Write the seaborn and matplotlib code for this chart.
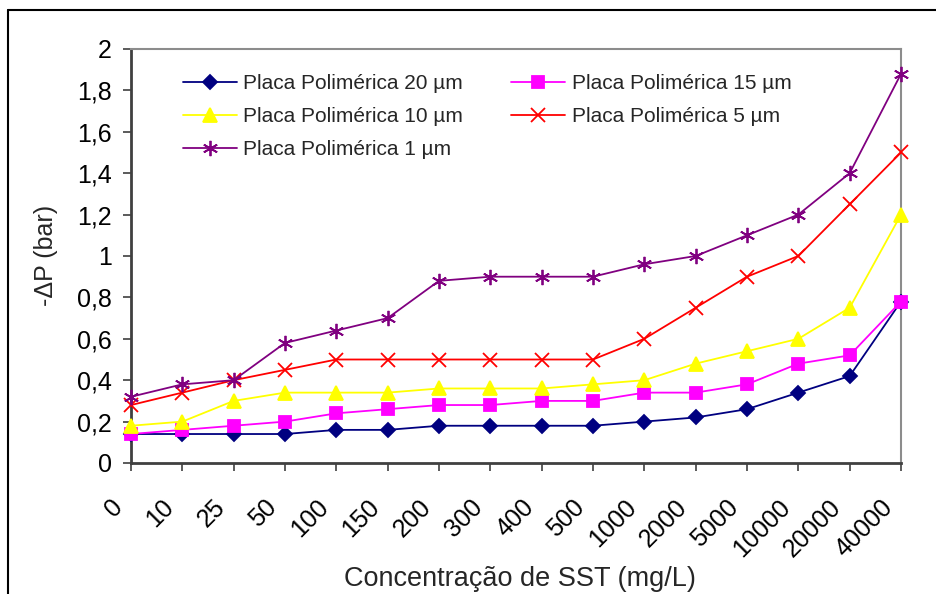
import matplotlib
matplotlib.use("Agg")
import matplotlib.pyplot as plt
import matplotlib.transforms as mtransforms
import seaborn as sns
import pandas as pd
from matplotlib.lines import Line2D

# ---- data ----
categories = ["0", "10", "25", "50", "100", "150", "200", "300", "400", "500",
              "1000", "2000", "5000", "10000", "20000", "40000"]
placa_20 = [0.14, 0.14, 0.14, 0.14, 0.16, 0.16, 0.18, 0.18, 0.18, 0.18, 0.20, 0.22, 0.26, 0.34, 0.42, 0.78]
placa_15 = [0.14, 0.16, 0.18, 0.20, 0.24, 0.26, 0.28, 0.28, 0.30, 0.30, 0.34, 0.34, 0.38, 0.48, 0.52, 0.78]
placa_10 = [0.18, 0.20, 0.30, 0.34, 0.34, 0.34, 0.36, 0.36, 0.36, 0.38, 0.40, 0.48, 0.54, 0.60, 0.75, 1.20]
placa_5 = [0.28, 0.34, 0.40, 0.45, 0.50, 0.50, 0.50, 0.50, 0.50, 0.50, 0.60, 0.75, 0.90, 1.00, 1.25, 1.50]
placa_1 = [0.32, 0.38, 0.40, 0.58, 0.64, 0.70, 0.88, 0.90, 0.90, 0.90, 0.96, 1.00, 1.10, 1.20, 1.40, 1.88]
series_labels = ["Placa Polimérica 20 µm", "Placa Polimérica 15 µm", "Placa Polimérica 10 µm",
                 "Placa Polimérica 5 µm", "Placa Polimérica 1 µm"]
y_ticks = [0, 0.2, 0.4, 0.6, 0.8, 1.0, 1.2, 1.4, 1.6, 1.8, 2.0]
y_tick_labels = ["0", "0,2", "0,4", "0,6", "0,8", "1", "1,2", "1,4", "1,6", "1,8", "2"]
x_title = "Concentração de SST (mg/L)"
y_title = "-ΔP (bar)"

# ---- styles ----
series_values = [placa_20, placa_15, placa_10, placa_5, placa_1]
colors = ["#000080", "#FF00FF", "#FFFF00", "#FF0000", "#800080"]
markers = ["D", "s", "^", "x", (6, 2, 0)]
msizes = [7.0, 8.3, 9.8, 10.0, 11.0]

sns.set_style("white")
plt.rcParams["font.family"] = ["Liberation Sans", "DejaVu Sans"]

W, H = 937, 594
fig = plt.figure(figsize=(W / 100, H / 100), dpi=100)
ax = fig.add_axes([131 / W, 1 - 463 / H, (901 - 131) / W, (463 - 49) / H])

handles = []
for vals, lab, c, m, ms in zip(series_values, series_labels, colors, markers, msizes):
    df = pd.DataFrame({"conc": categories, "dp": vals})
    sns.lineplot(data=df, x="conc", y="dp", ax=ax, color=c, marker=m, markersize=ms,
                 markeredgecolor=c, markerfacecolor=c, markeredgewidth=1.3,
                 linewidth=1.3, sort=False, clip_on=False, legend=False, zorder=3)
    handles.append(Line2D([], [], color=c, marker=m, markersize=ms, markeredgecolor=c,
                          markerfacecolor=c, markeredgewidth=1.3, linewidth=1.3))

ax.set_xlim(0, len(categories) - 1)
ax.set_ylim(0, 2)
ax.set_yticks(y_ticks)
ax.set_yticklabels(y_tick_labels)
ax.tick_params(axis="y", labelsize=18, length=6, width=1.2, direction="out",
               left=True, pad=8, colors="#000000")
ax.tick_params(axis="x", labelsize=18, length=6, width=1.2, direction="out",
               bottom=True, pad=23, colors="#000000")
shift = mtransforms.ScaledTranslation(-12 / 100, 0, fig.dpi_scale_trans)
for lbl in ax.get_xticklabels():
    lbl.set_rotation(45)
    lbl.set_ha("right")
    lbl.set_va("center")
    lbl.set_rotation_mode("anchor")
    lbl.set_transform(lbl.get_transform() + shift)
ax.tick_params(axis="both", color="#404040")

for side in ["left", "bottom"]:
    ax.spines[side].set_color("#404040")
    ax.spines[side].set_linewidth(2)
for side in ["top", "right"]:
    ax.spines[side].set_color("#8c8c8c")
    ax.spines[side].set_linewidth(1.5)
ax.grid(False)

ax.set_xlabel(x_title, fontsize=19.5)
ax.set_ylabel(y_title, fontsize=18)
ax.xaxis.set_label_coords((520 - 131) / (901 - 131), (463 - 566) / (463 - 49))
ax.yaxis.set_label_coords((46 - 131) / (901 - 131), (463 - 255) / (463 - 49))
ax.yaxis.label.set_va("center")

order = [0, 2, 4, 1, 3]
leg = ax.legend([handles[i] for i in order], [series_labels[i] for i in order],
                ncol=2, frameon=False, fontsize=15, loc="upper left",
                bbox_to_anchor=(183 / W, 1 - 74 / H), bbox_transform=fig.transFigure,
                handlelength=2.6, handletextpad=0.3, columnspacing=2.3,
                labelspacing=0.68, borderpad=0, borderaxespad=0)

# outer chart border
fig.add_artist(Line2D([8 / W, 1], [1 - 10 / H, 1 - 10 / H], transform=fig.transFigure,
                      color="black", linewidth=1.5))
fig.add_artist(Line2D([8 / W, 8 / W], [0, 1 - 10 / H], transform=fig.transFigure,
                      color="black", linewidth=1.5))

fig.savefig("out.png", dpi=100)
